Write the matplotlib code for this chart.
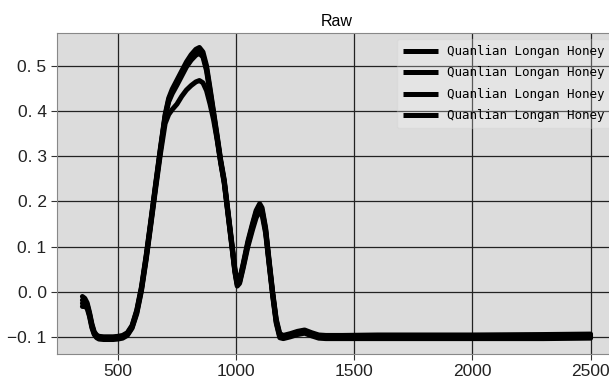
import matplotlib
matplotlib.use("Agg")
import matplotlib.pyplot as plt
from matplotlib.ticker import FuncFormatter

# wavelength nodes (nm)
wl = [350, 360, 370, 380, 390, 400, 410, 420, 440, 460, 480, 500, 520, 540, 560,
      580, 600, 620, 640, 660, 680, 700, 715, 730, 750, 770, 790, 810, 830, 845,
      860, 875, 890, 905, 920, 935, 950, 965, 980, 995, 1005, 1015, 1030, 1050,
      1070, 1085, 1100, 1110, 1125, 1140, 1155, 1170, 1185, 1200, 1230, 1260,
      1290, 1320, 1350, 1380, 1450, 1600, 2000, 2300, 2500]

s1 = [-0.010, -0.014, -0.024, -0.045, -0.070, -0.088, -0.095, -0.098, -0.099, -0.099,
      -0.099, -0.098, -0.096, -0.090, -0.074, -0.040, 0.012, 0.082, 0.160, 0.240,
      0.318, 0.392, 0.428, 0.448, 0.468, 0.488, 0.508, 0.524, 0.536, 0.540,
      0.530, 0.500, 0.450, 0.398, 0.346, 0.292, 0.248, 0.183, 0.118, 0.052,
      0.022, 0.028, 0.062, 0.112, 0.152, 0.180, 0.195, 0.186, 0.142, 0.070,
      0.000, -0.060, -0.092, -0.096, -0.092, -0.087, -0.084, -0.090, -0.095, -0.096,
      -0.096, -0.095, -0.095, -0.094, -0.093]
s2 = [-0.018, -0.020, -0.028, -0.048, -0.073, -0.090, -0.097, -0.100, -0.101, -0.101,
      -0.101, -0.100, -0.098, -0.092, -0.076, -0.042, 0.009, 0.079, 0.157, 0.237,
      0.315, 0.389, 0.424, 0.443, 0.462, 0.482, 0.502, 0.518, 0.529, 0.533,
      0.524, 0.494, 0.445, 0.394, 0.342, 0.289, 0.245, 0.180, 0.115, 0.049,
      0.019, 0.025, 0.059, 0.108, 0.148, 0.176, 0.190, 0.181, 0.138, 0.066,
      -0.003, -0.063, -0.095, -0.098, -0.094, -0.089, -0.086, -0.092, -0.097, -0.098,
      -0.098, -0.097, -0.097, -0.097, -0.096]
s3 = [-0.025, -0.026, -0.032, -0.051, -0.076, -0.092, -0.099, -0.102, -0.103, -0.103,
      -0.103, -0.102, -0.100, -0.094, -0.078, -0.045, 0.006, 0.076, 0.154, 0.234,
      0.312, 0.386, 0.420, 0.438, 0.457, 0.477, 0.497, 0.512, 0.523, 0.527,
      0.519, 0.489, 0.440, 0.390, 0.339, 0.287, 0.242, 0.177, 0.112, 0.046,
      0.016, 0.022, 0.056, 0.105, 0.144, 0.171, 0.185, 0.177, 0.135, 0.063,
      -0.006, -0.066, -0.098, -0.100, -0.096, -0.091, -0.088, -0.094, -0.099, -0.100,
      -0.100, -0.100, -0.100, -0.100, -0.099]
s4 = [-0.032, -0.032, -0.036, -0.054, -0.079, -0.094, -0.101, -0.104, -0.105, -0.105,
      -0.105, -0.104, -0.102, -0.096, -0.080, -0.048, 0.003, 0.072, 0.150, 0.229,
      0.305, 0.372, 0.392, 0.403, 0.415, 0.432, 0.446, 0.456, 0.464, 0.467,
      0.462, 0.445, 0.415, 0.380, 0.336, 0.285, 0.240, 0.175, 0.110, 0.044,
      0.013, 0.019, 0.052, 0.100, 0.138, 0.164, 0.178, 0.171, 0.130, 0.060,
      -0.009, -0.069, -0.101, -0.103, -0.099, -0.094, -0.091, -0.097, -0.102, -0.103,
      -0.103, -0.103, -0.103, -0.103, -0.102]

series = [s1, s2, s3, s4]
label = "Quanlian Longan Honey"


def fmt(v, pos):
    txt = f"{abs(v):.1f}".replace(".", ". ")
    return ("\u2212" if v < -1e-9 else "") + txt


plt.rcParams['font.family'] = ['Liberation Sans', 'DejaVu Sans']

fig = plt.figure(figsize=(6.09, 3.78), dpi=100)
ax = fig.add_axes([57 / 609, 24 / 378, 559 / 609, 321 / 378])
ax.set_facecolor('#dcdcdc')

for s in series:
    ax.plot(wl, s, color='black', linewidth=3.6, label=label,
            solid_joinstyle='round', solid_capstyle='round')

ax.set_xlim(242.5, 2607.5)
ax.set_ylim(-0.137, 0.572)
ax.set_xticks([500, 1000, 1500, 2000, 2500])
ax.set_yticks([-0.1, 0.0, 0.1, 0.2, 0.3, 0.4, 0.5])
ax.yaxis.set_major_formatter(FuncFormatter(fmt))
ax.tick_params(labelsize=12.5, color='#333333', length=4, labelcolor='#222222')
ax.grid(True, color='#222222', linewidth=0.9)
ax.set_axisbelow(True)
for sp in ax.spines.values():
    sp.set_color('#888888')

ax.set_title("Raw", fontsize=11.5, pad=5)

leg = ax.legend(loc='upper right', prop={'family': 'DejaVu Sans Mono', 'size': 9},
                framealpha=0.25, facecolor='white', edgecolor='#cccccc',
                handlelength=2.8, handletextpad=0.7, labelspacing=0.68,
                borderpad=0.45)
for h in leg.get_lines():
    h.set_linewidth(3.6)
    h.set_solid_capstyle('butt')

fig.savefig("out.png", dpi=100)
